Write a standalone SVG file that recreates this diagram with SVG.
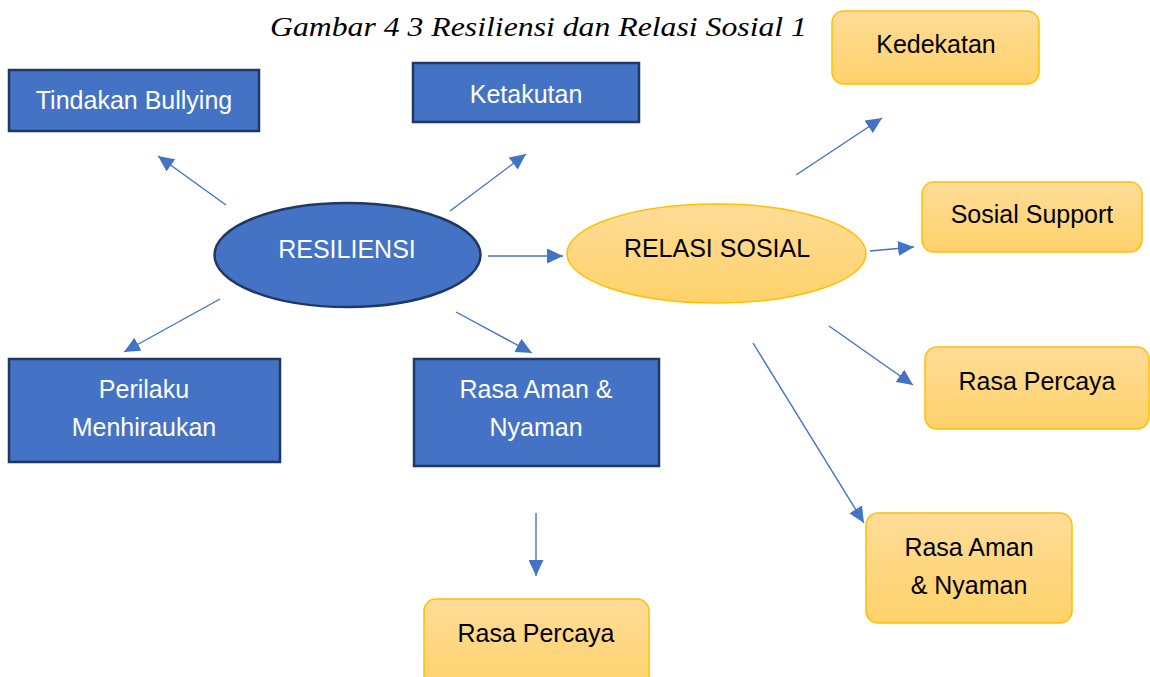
<svg xmlns="http://www.w3.org/2000/svg" width="1150" height="677" viewBox="0 0 1150 677">
<style>
.blue{fill:#4472c4;stroke:#1f3864;stroke-width:2.5}
.gold{fill:url(#goldGrad);stroke:#ffc000;stroke-width:1.5}
.tw{font-family:"Liberation Sans",Arial,sans-serif;font-size:25px;fill:#ffffff;text-anchor:middle}
.tb{font-family:"Liberation Sans",Arial,sans-serif;font-size:25px;fill:#000000;text-anchor:middle}
.title{font-family:"Liberation Serif","Times New Roman",Times,serif;font-style:italic;font-size:28px;fill:#000000;text-anchor:middle}
.conn line{stroke:#4472c4;stroke-width:1.4;marker-end:url(#arrow)}
</style>
<defs>
<linearGradient id="goldGrad" x1="0" y1="0" x2="0" y2="1">
<stop offset="0" stop-color="#ffdc98"/>
<stop offset="1" stop-color="#ffd26a"/>
</linearGradient>
<marker id="arrow" markerUnits="userSpaceOnUse" markerWidth="17" markerHeight="15" refX="16" refY="7.5" orient="auto">
<path d="M0,0 L16,7.5 L0,15 z" fill="#4472c4"/>
</marker>
</defs>
<rect width="1150" height="677" fill="#ffffff"/>
<text class="title" x="538.5" y="36" textLength="537" lengthAdjust="spacingAndGlyphs">Gambar 4 3 Resiliensi dan Relasi Sosial 1</text>

<g id="node-tindakan">
<rect class="blue" x="9" y="70" width="250" height="61"/>
<text class="tw" x="134" y="109">Tindakan Bullying</text>
</g>
<g id="node-ketakutan">
<rect class="blue" x="413" y="63" width="226" height="59"/>
<text class="tw" x="526" y="103">Ketakutan</text>
</g>
<g id="node-resiliensi">
<ellipse class="blue" cx="347.5" cy="255" rx="133" ry="52"/>
<text class="tw" x="347" y="258">RESILIENSI</text>
</g>
<g id="node-perilaku">
<rect class="blue" x="9" y="359" width="271" height="103"/>
<text class="tw" x="144" y="398">Perilaku</text>
<text class="tw" x="144" y="436">Menhiraukan</text>
</g>
<g id="node-aman-blue">
<rect class="blue" x="414" y="359" width="245" height="107"/>
<text class="tw" x="536" y="398">Rasa Aman &amp;</text>
<text class="tw" x="536" y="436">Nyaman</text>
</g>
<g id="node-percaya-bottom">
<rect class="gold" x="424" y="599" width="225" height="95" rx="12"/>
<text class="tb" x="536" y="642">Rasa Percaya</text>
</g>
<g id="node-relasi">
<ellipse class="gold" cx="716.5" cy="253.5" rx="149.5" ry="49.5"/>
<text class="tb" x="717" y="257">RELASI SOSIAL</text>
</g>
<g id="node-kedekatan">
<rect class="gold" x="832" y="11" width="207" height="73" rx="12"/>
<text class="tb" x="936" y="53">Kedekatan</text>
</g>
<g id="node-sosial-support">
<rect class="gold" x="922" y="182" width="220" height="70" rx="12"/>
<text class="tb" x="1032" y="223">Sosial Support</text>
</g>
<g id="node-percaya-right">
<rect class="gold" x="925" y="347" width="224" height="82" rx="12"/>
<text class="tb" x="1037" y="390">Rasa Percaya</text>
</g>
<g id="node-aman-gold">
<rect class="gold" x="866" y="513" width="206" height="110" rx="12"/>
<text class="tb" x="969" y="556">Rasa Aman</text>
<text class="tb" x="969" y="594">&amp; Nyaman</text>
</g>

<g id="connectors" class="conn">
<line x1="226" y1="205" x2="158" y2="156"/>
<line x1="450" y1="211" x2="526" y2="154"/>
<line x1="488" y1="256" x2="563" y2="256"/>
<line x1="220" y1="299" x2="124" y2="352"/>
<line x1="456" y1="312" x2="532" y2="353"/>
<line x1="536" y1="513" x2="536" y2="576"/>
<line x1="796" y1="175" x2="882" y2="118"/>
<line x1="870" y1="251" x2="914" y2="247"/>
<line x1="829" y1="326" x2="913" y2="385"/>
<line x1="753" y1="343" x2="864" y2="523"/>
</g>
</svg>
